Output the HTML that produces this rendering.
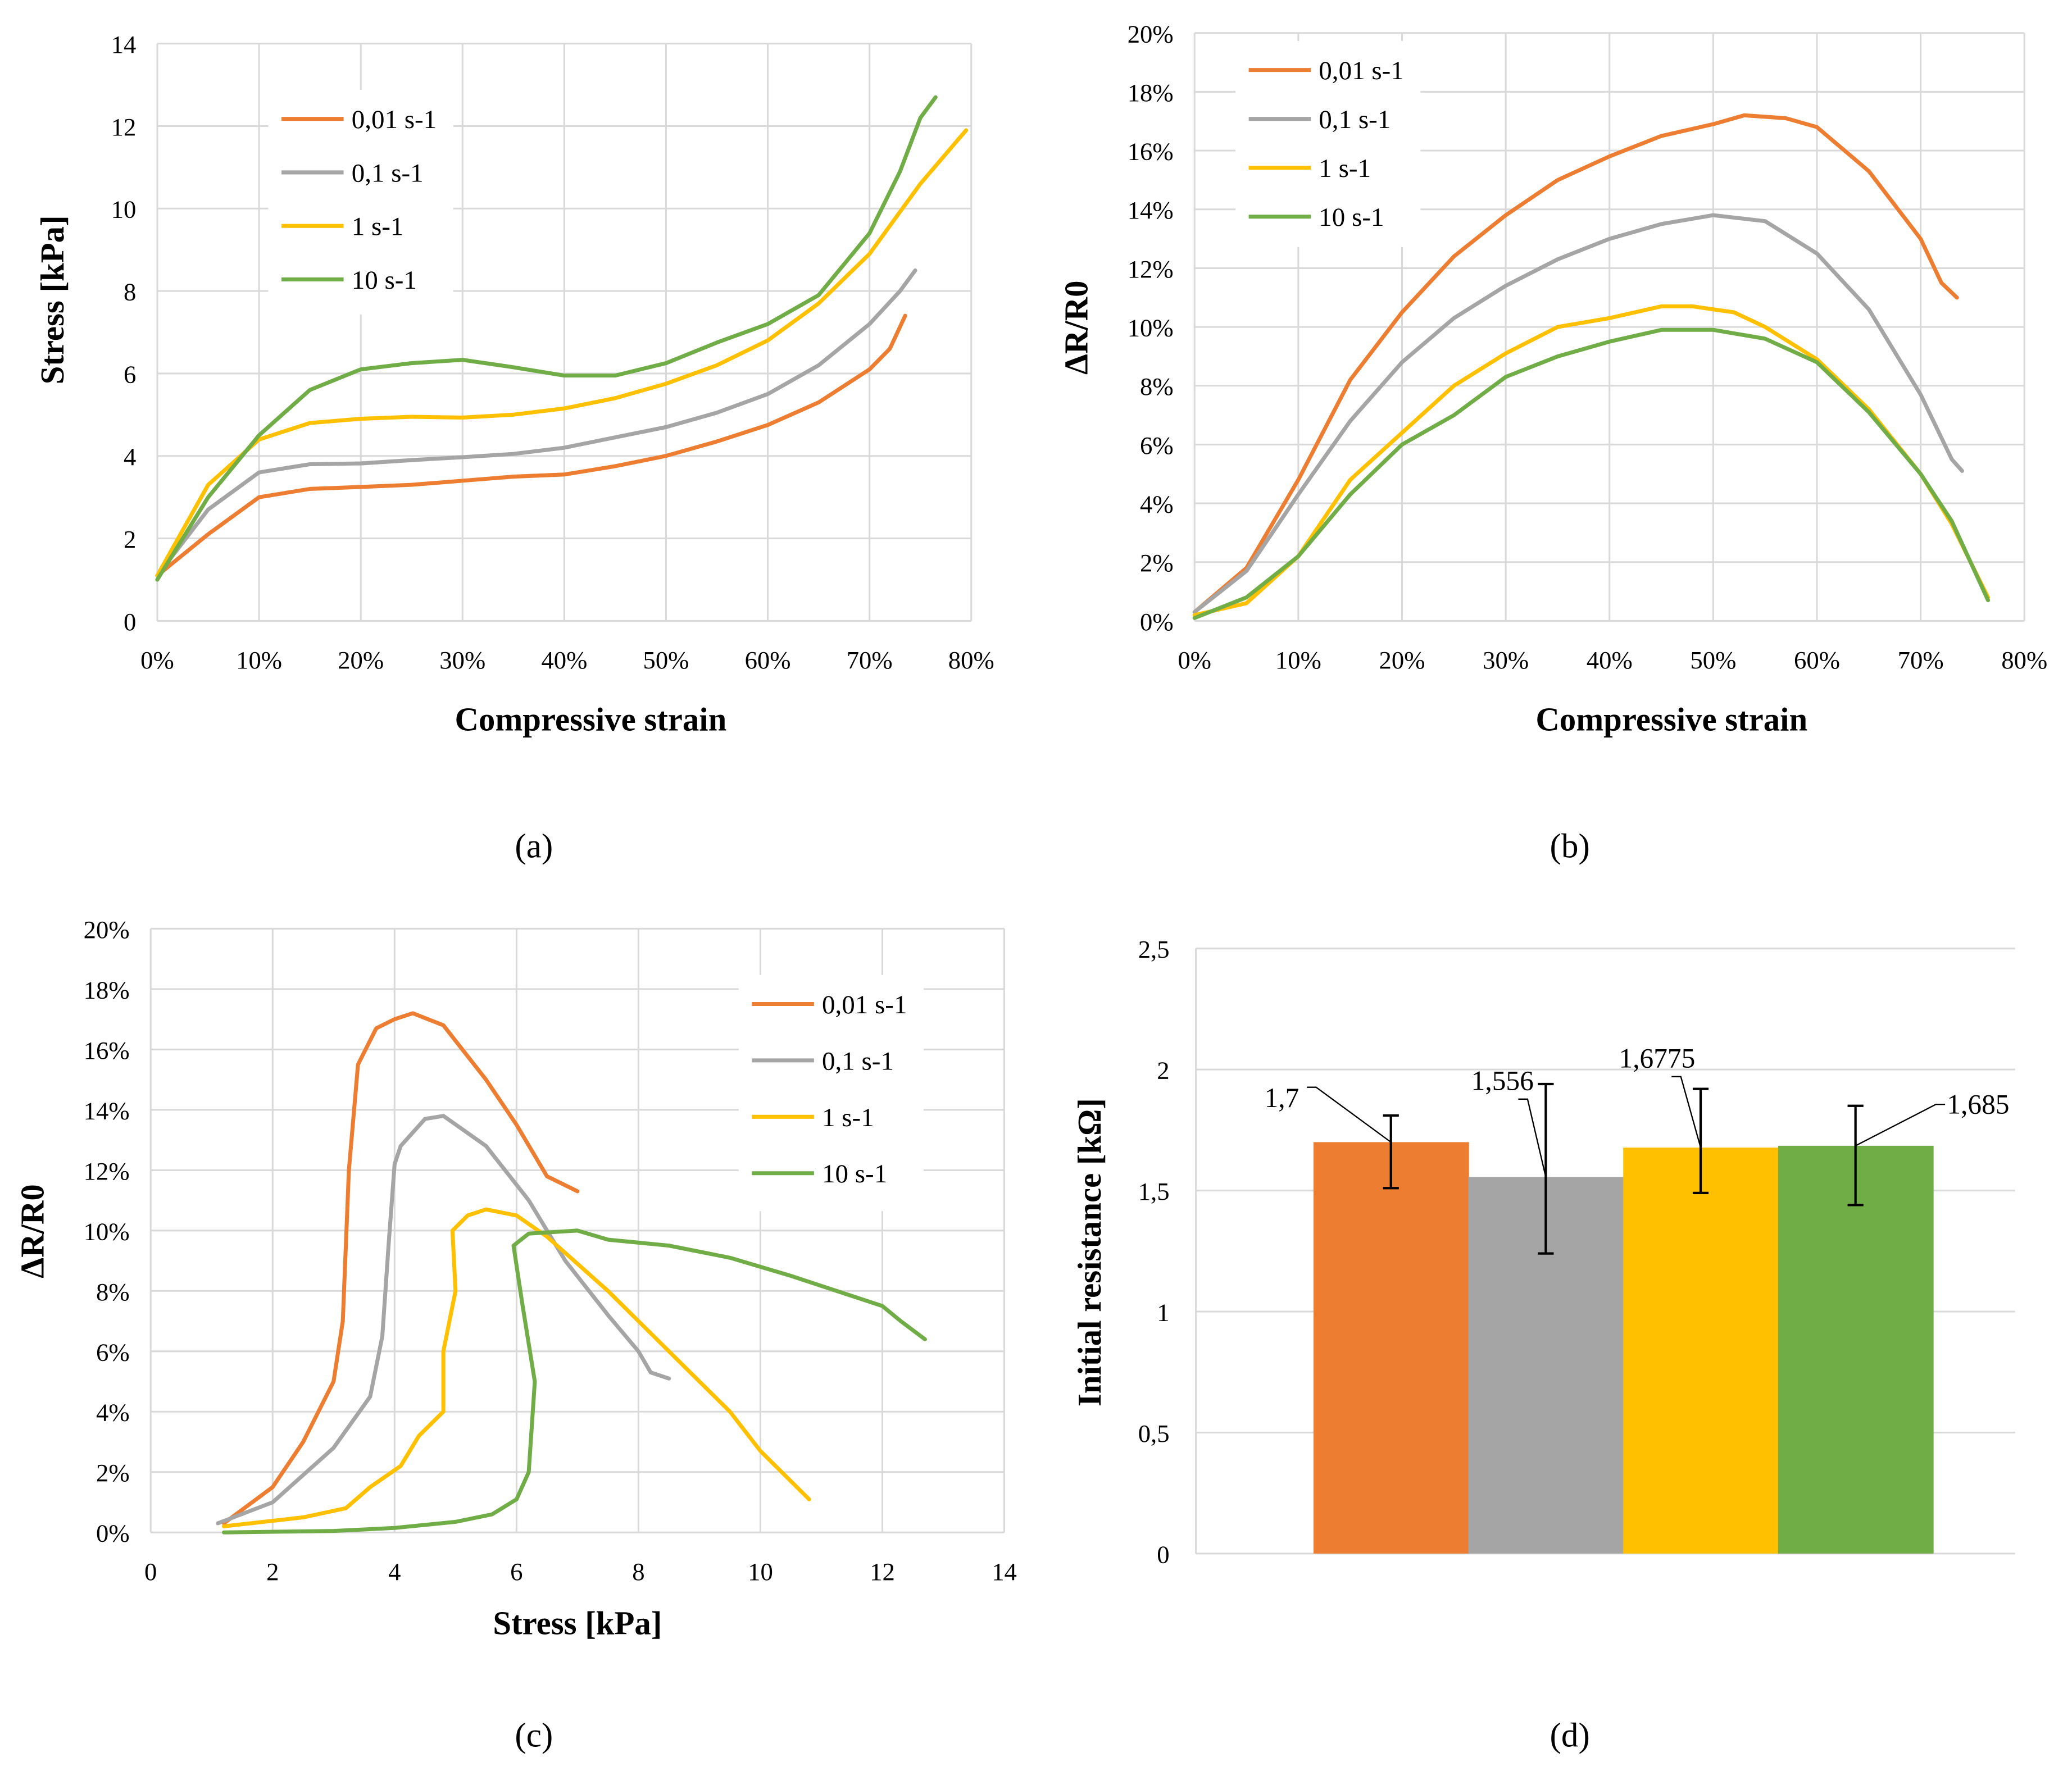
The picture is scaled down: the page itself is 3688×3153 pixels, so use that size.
<!DOCTYPE html>
<html><head><meta charset="utf-8"><style>
html,body{margin:0;padding:0;background:#fff}
svg{display:block}
text{font-family:"Liberation Serif",serif;fill:#000}
</style></head><body>
<svg id="fig" width="3688" height="3153" viewBox="0 0 1568 1340.6" xmlns="http://www.w3.org/2000/svg"></svg>
<script>
// ---------- DATA ----------
const seriesNames = ["0,01 s-1","0,1 s-1","1 s-1","10 s-1"];
const colors = ["#ED7D31","#A5A5A5","#FFC000","#70AD47"];
// (a) strain % vs stress kPa
const aOrangeX=[0,5,10,15,20,25,30,35,40,45,50,55,60,65,70,72,73.5];
const aOrangeY=[1.1,2.1,3.0,3.2,3.25,3.3,3.4,3.5,3.55,3.75,4.0,4.35,4.75,5.3,6.1,6.6,7.4];
const aGrayX=[0,5,10,15,20,25,30,35,40,45,50,55,60,65,70,73,74.5];
const aGrayY=[1.1,2.7,3.6,3.8,3.82,3.9,3.97,4.05,4.2,4.45,4.7,5.05,5.5,6.2,7.2,8.0,8.5];
const aYellowX=[0,5,10,15,20,25,30,35,40,45,50,55,60,65,70,75,79.5];
const aYellowY=[1.1,3.3,4.4,4.8,4.9,4.95,4.93,5.0,5.15,5.4,5.75,6.2,6.8,7.7,8.9,10.6,11.9];
const aGreenX=[0,5,10,15,20,25,30,35,40,45,50,55,60,65,70,73,75,76.5];
const aGreenY=[1.0,3.0,4.5,5.6,6.1,6.25,6.33,6.15,5.95,5.95,6.25,6.75,7.2,7.9,9.4,10.9,12.2,12.7];
// (b) strain % vs dR/R0 %
const bOrangeX=[0,5,10,15,20,25,30,35,40,45,50,53,57,60,65,70,72,73.5];
const bOrangeY=[0.3,1.8,4.8,8.2,10.5,12.4,13.8,15.0,15.8,16.5,16.9,17.2,17.1,16.8,15.3,13.0,11.5,11.0];
const bGrayX=[0,5,10,15,20,25,30,35,40,45,50,55,60,65,70,73,74];
const bGrayY=[0.3,1.7,4.3,6.8,8.8,10.3,11.4,12.3,13.0,13.5,13.8,13.6,12.5,10.6,7.7,5.5,5.1];
const bYellowX=[0,5,10,15,20,25,30,35,40,45,48,52,55,60,65,70,73,76.5];
const bYellowY=[0.2,0.6,2.2,4.8,6.4,8.0,9.1,10.0,10.3,10.7,10.7,10.5,10.0,8.9,7.2,5.0,3.3,0.8];
const bGreenX=[0,5,10,15,20,25,30,35,40,45,50,55,60,65,70,73,76.5];
const bGreenY=[0.1,0.8,2.2,4.3,6.0,7.0,8.3,9.0,9.5,9.9,9.9,9.6,8.8,7.1,5.0,3.4,0.7];
// (c) stress kPa vs dR/R0 %
const cOrangeX=[1.2,2,2.5,3,3.15,3.25,3.4,3.7,4,4.3,4.8,5.5,6,6.5,7];
const cOrangeY=[0.3,1.5,3,5,7,12,15.5,16.7,17.0,17.2,16.8,15.0,13.5,11.8,11.3];
const cGrayX=[1.1,2,3,3.6,3.8,3.9,4,4.1,4.5,4.8,5.5,6.2,6.8,7.5,8,8.2,8.5];
const cGrayY=[0.3,1,2.8,4.5,6.5,9.5,12.2,12.8,13.7,13.8,12.8,11,9,7.2,6,5.3,5.1];
const cYellowX=[1.2,2.5,3.2,3.6,4.1,4.4,4.8,4.8,5,4.95,5.2,5.5,6,6.5,7.5,8.5,9.5,10,10.8];
const cYellowY=[0.2,0.5,0.8,1.5,2.2,3.2,4,6,8,10,10.5,10.7,10.5,9.8,8,6,4,2.7,1.1];
const cGreenX=[1.2,3,4,5,5.6,6,6.2,6.3,6.1,5.95,6.2,7,7.5,8.5,9.5,10.5,12,12.3,12.7];
const cGreenY=[0,0.05,0.15,0.35,0.6,1.1,2,5,7.5,9.5,9.9,10,9.7,9.5,9.1,8.5,7.5,7,6.4];
// (d) bars
const dValues=[1.7,1.556,1.6775,1.685];
const dLabels=["1,7","1,556","1,6775","1,685"];
const dErrLow=[1.51,1.24,1.49,1.44];
const dErrHigh=[1.81,1.94,1.92,1.85];

// ---------- DRAW ----------
const svg=document.getElementById('fig');
const NS="http://www.w3.org/2000/svg";
function mk(tag,attrs,parent){const e=document.createElementNS(NS,tag);for(const k in attrs)e.setAttribute(k,attrs[k]);(parent||svg).appendChild(e);return e;}
function txt(s,x,y,size,anchor,name,extra){const t=mk('text',Object.assign({x:x,y:y,'font-size':size,'text-anchor':anchor||'middle'},extra||{}));t.textContent=s;


return t;}
function lin(x0,x1,v0,v1){return v=>x0+(v-v0)*(x1-x0)/(v1-v0);}

function panel(id,o){
  const g=mk('g',{});
  
  
  const X=lin(o.px0,o.px1,o.xmin,o.xmax),Y=lin(o.py0,o.py1,o.ymin,o.ymax);
  // grid
  for(let v=o.xmin;v<=o.xmax+1e-9;v+=o.xstep){const l=mk('line',{x1:X(v),x2:X(v),y1:o.py1,y2:o.py0,stroke:'#d9d9d9','stroke-width':1.3},g);
    
    const t=txt(o.xfmt(v),X(v),o.py0+36,19,'middle','x-tick-label');g.appendChild(t);}
  for(let v=o.ymin;v<=o.ymax+1e-9;v+=o.ystep){const l=mk('line',{x1:o.px0,x2:o.px1,y1:Y(v),y2:Y(v),stroke:'#d9d9d9','stroke-width':1.3},g);
    
    const t=txt(o.yfmt(v),o.px0-16,Y(v)+7,19,'end','y-tick-label');g.appendChild(t);}
  // legend bg
  if(o.leg){const r=mk('rect',{x:o.leg.x-10,y:o.leg.y-22,width:140,height:o.leg.dy*4+8,fill:'#fff'},g);
    }
  o.series.forEach((s,i)=>{
    const pts=s[0].map((xv,j)=>X(xv).toFixed(1)+','+Y(s[1][j]).toFixed(1)).join(' ');
    const p=mk('polyline',{points:pts,fill:'none',stroke:colors[i],'stroke-width':3,'stroke-linejoin':'round','stroke-linecap':'round'},g);
    
    
    if(o.leg){const ly=o.leg.y+i*o.leg.dy;
      const ll=mk('line',{x1:o.leg.x,x2:o.leg.x+47,y1:ly,y2:ly,stroke:colors[i],'stroke-width':3},g);
      
      g.appendChild(txt(seriesNames[i],o.leg.x+53,ly+7,20,'start','legend-entry'));}
  });
  g.appendChild(txt(o.xtitle,o.xt[0],o.xt[1],25,'middle','x-axis-title',{'font-weight':'bold'}));
  g.appendChild(txt(o.ytitle,0,0,25,'middle','y-axis-title',{'font-weight':'bold',transform:`translate(${o.yt[0]},${o.yt[1]}) rotate(-90)`}));
}
const pct=v=>Math.round(v)+'%', num=v=>String(Math.round(v));

panel('panel-a',{px0:119,px1:735,py0:470,py1:33,xmin:0,xmax:80,xstep:10,ymin:0,ymax:14,ystep:2,xfmt:pct,yfmt:num,
  series:[[aOrangeX,aOrangeY],[aGrayX,aGrayY],[aYellowX,aYellowY],[aGreenX,aGreenY]],
  leg:{x:213,y:90,dy:40.5},xtitle:'Compressive strain',xt:[447,553],ytitle:'Stress [kPa]',yt:[48,227]});
panel('panel-b',{px0:904,px1:1532,py0:470,py1:25,xmin:0,xmax:80,xstep:10,ymin:0,ymax:20,ystep:2,xfmt:pct,yfmt:pct,
  series:[[bOrangeX,bOrangeY],[bGrayX,bGrayY],[bYellowX,bYellowY],[bGreenX,bGreenY]],
  leg:{x:945,y:53,dy:37},xtitle:'Compressive strain',xt:[1265,553],ytitle:'ΔR/R0',yt:[823,248]});
panel('panel-c',{px0:114,px1:760,py0:1160,py1:703,xmin:0,xmax:14,xstep:2,ymin:0,ymax:20,ystep:2,xfmt:num,yfmt:pct,
  series:[[cOrangeX,cOrangeY],[cGrayX,cGrayY],[cYellowX,cYellowY],[cGreenX,cGreenY]],
  leg:{x:569,y:760,dy:42.7},xtitle:'Stress [kPa]',xt:[437,1237],ytitle:'ΔR/R0',yt:[33,932]});

// panel d
(function(){
  const g=mk('g',{});
  
  
  const Y=lin(1176,718,0,2.5);
  const ax=mk('line',{x1:905,x2:905,y1:718,y2:1176,stroke:'#d9d9d9','stroke-width':1.3},g);
  
  const yt=["0","0,5","1","1,5","2","2,5"];
  yt.forEach((s,i)=>{const v=i*0.5;
    const l=mk('line',{x1:905,x2:1525,y1:Y(v),y2:Y(v),stroke:'#d9d9d9','stroke-width':1.3},g);
    
    g.appendChild(txt(s,885,Y(v)+7,19,'end','y-tick-label'));});
  const bx0=994,bw=117.2;
  const lbl=[[970,838,'middle',[996,823,1052,868]],[1137,825,'middle',[1156,832,1168,893]],[1254,808,'middle',[1272,815,1287,868]],[1497,843,'middle',[1465,836,1403,868]]];
  dValues.forEach((v,i)=>{
    const x=bx0+i*bw;
    const r=mk('rect',{x:x,y:Y(v),width:bw+0.5,height:Y(0)-Y(v),fill:colors[i]},g);
    
    const cx=x+bw/2;
    const e=mk('path',{d:`M${cx},${Y(dErrLow[i])}V${Y(dErrHigh[i])}M${cx-6},${Y(dErrLow[i])}H${cx+6}M${cx-6},${Y(dErrHigh[i])}H${cx+6}`,stroke:'#000','stroke-width':1.8,fill:'none'},g);
    
    const L=lbl[i];
    const ln=mk('polyline',{points:i==3?`${L[3][0]+7},${L[3][1]} ${L[3][0]},${L[3][1]} ${cx},${Y(v)}`:`${L[3][0]-7},${L[3][1]} ${L[3][0]},${L[3][1]} ${cx},${Y(v)}`,stroke:'#000','stroke-width':1,fill:'none'},g);
    
    g.appendChild(txt(dLabels[i],L[0],L[1],21,L[2],'value-label'));
  });
  g.appendChild(txt('Initial resistance [kΩ]',0,0,25,'middle','y-axis-title',{'font-weight':'bold',transform:'translate(833,948) rotate(-90)'}));
})();

[['(a)',404,649],['(b)',1188,649],['(c)',404,1322],['(d)',1188,1322]].forEach(a=>{txt(a[0],a[1],a[2],26,'middle','panel-caption');});
</script>
</body></html>
